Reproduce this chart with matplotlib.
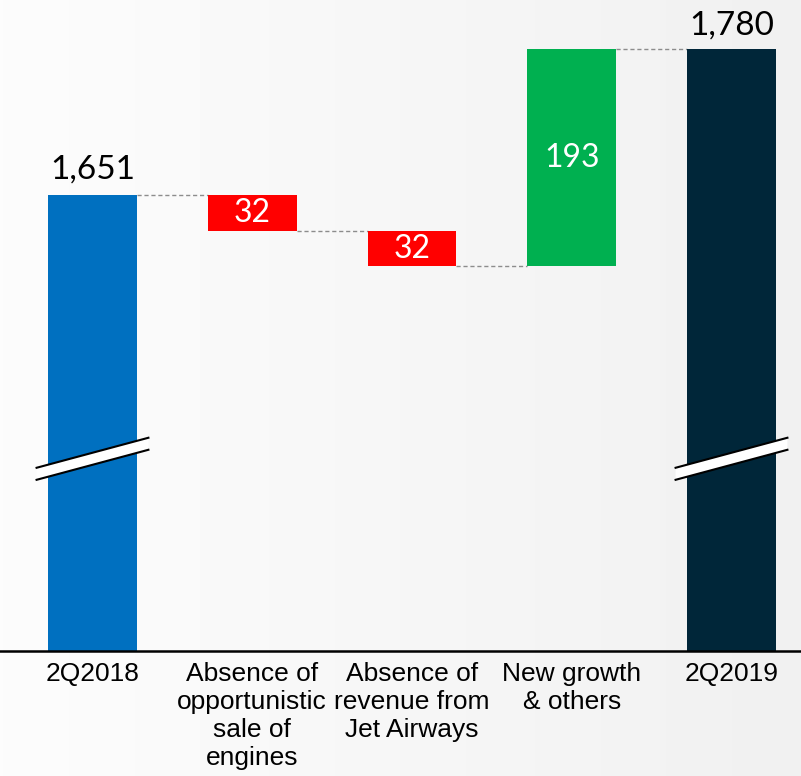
import numpy as np
import matplotlib
matplotlib.use("Agg")
from matplotlib import pyplot as plt
from matplotlib.patches import Polygon

categories = ["2Q2018", "Absence of\nopportunistic\nsale of\nengines",
              "Absence of\nrevenue from\nJet Airways", "New growth\n& others", "2Q2019"]
start = 1651
deltas = [-32, -32, 193]
end = 1780
colors = ["#0070C0", "#FF0000", "#FF0000", "#00B050", "#002639"]

y_min, y_max = 1245, 1824
break_val = 1416

fig = plt.figure(figsize=(8.01, 7.76), dpi=100)

# light grey gradient background
bg = fig.add_axes([0, 0, 1, 1])
grad = np.linspace(0, 1, 256).reshape(1, -1)
bg.imshow(grad, aspect="auto", extent=[0, 1, 0, 1],
          cmap=matplotlib.colors.LinearSegmentedColormap.from_list("bg", ["#FDFDFD", "#F1F1F1"]))
bg.axis("off")

ax = fig.add_axes([0, 0.161, 1, 0.839])
ax.patch.set_alpha(0)

# waterfall bottoms/tops
bottoms = [y_min]
tops = [start]
level = start
for d in deltas:
    new = level + d
    bottoms.append(min(level, new))
    tops.append(max(level, new))
    level = new
bottoms.append(y_min)
tops.append(end)

x = np.arange(len(categories))
w = 0.557
ax.bar(x, np.array(tops) - np.array(bottoms), bottom=bottoms, width=w,
       color=colors, zorder=2)

# connectors
levels = [start, start - 32, start - 64, end]
for i, lv in enumerate(levels):
    ax.plot([x[i] + w / 2, x[i + 1] - w / 2], [lv, lv], color="#8C8C8C",
            lw=1, ls=(0, (3, 2)), zorder=1)

# value labels
ax.text(x[0], start + 9, "1,651", ha="center", va="bottom", fontsize=24, family="Lato")
ax.text(x[4], end + 8, "1,780", ha="center", va="bottom", fontsize=24, family="Lato")
for i, d in enumerate(deltas, start=1):
    ax.text(x[i], (tops[i] + bottoms[i]) / 2, str(abs(d)), ha="center", va="center",
            color="white", fontsize=23, family="Lato")

# axis break marks
for xi in [x[0], x[4]]:
    half = 0.35
    rise = 26.7
    thick = 10.7
    xl, xr = xi - half, xi + half
    yl, yr = break_val - rise / 2, break_val + rise / 2
    poly = Polygon([[xl, yl - thick / 2], [xr, yr - thick / 2],
                    [xr, yr + thick / 2], [xl, yl + thick / 2]],
                   closed=True, facecolor="white", edgecolor="none", zorder=3)
    ax.add_patch(poly)
    ax.plot([xl, xr], [yl + thick / 2, yr + thick / 2], color="black", lw=1.5, zorder=4)
    ax.plot([xl, xr], [yl - thick / 2, yr - thick / 2], color="black", lw=1.5, zorder=4)

ax.set_xlim(-0.579, 4.435)
ax.set_ylim(y_min, y_max)
ax.set_yticks([])
ax.set_xticks(x)
ax.set_xticklabels(categories, fontsize=19, family="Liberation Sans", linespacing=1.2)
ax.tick_params(axis="x", length=0, pad=8)
for s in ["top", "left", "right"]:
    ax.spines[s].set_visible(False)
ax.spines["bottom"].set_linewidth(1.8)
ax.spines["bottom"].set_color("black")

fig.savefig("out.png", dpi=100)
